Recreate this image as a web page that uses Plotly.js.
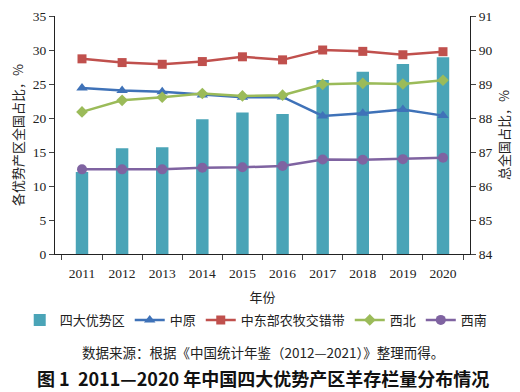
<!DOCTYPE html>
<html><head><meta charset="utf-8">
<script src="https://cdn.plot.ly/plotly-3.0.1.min.js"></script>
<style>body{margin:0}#chart{width:520px;height:392px}</style>
</head><body><div id="chart"></div>
<script>
const years = ['2011','2012','2013','2014','2015','2016','2017','2018','2019','2020'];
const total = [86.41, 87.11, 87.14, 87.96, 88.16, 88.12, 89.12, 89.36, 89.59, 89.79];
const zhongyuan = [24.4, 24.05, 23.85, 23.4, 23.05, 23.1, 20.3, 20.7, 21.25, 20.35];
const zhongdong = [28.7, 28.15, 27.9, 28.3, 29.0, 28.55, 30.0, 29.8, 29.3, 29.75];
const xibei = [20.9, 22.6, 23.05, 23.6, 23.25, 23.35, 24.95, 25.1, 25.0, 25.55];
const xinan = [12.45, 12.45, 12.45, 12.7, 12.75, 12.95, 13.9, 13.85, 13.95, 14.15];

const serif = 'Liberation Serif, Noto Sans CJK SC, serif';
const cjk = 'Noto Sans CJK SC, sans-serif';

const lineTrace = (name, y, color, symbol, size) => ({
  type: 'scatter', mode: 'lines+markers', name: name, x: years, y: y, yaxis: 'y2',
  line: {color: color, width: 2.5}, marker: {symbol: symbol, size: size, color: color}
});

const data = [
  {type: 'bar', name: '四大优势区', x: years, y: total, yaxis: 'y', marker: {color: '#4AA4B7'}, width: 0.31},
  lineTrace('中原', zhongyuan, '#3F72B8', 'triangle-up', 10),
  lineTrace('中东部农牧交错带', zhongdong, '#C0504D', 'square', 9),
  lineTrace('西北', xibei, '#9BBB59', 'diamond', 9),
  lineTrace('西南', xinan, '#7F63A1', 'circle', 10)
];

const layout = {
  width: 520, height: 392,
  margin: {l: 55, r: 50, t: 16, b: 138},
  paper_bgcolor: '#fff', plot_bgcolor: '#fff',
  showlegend: true,
  font: {family: serif, size: 13, color: '#222'},
  xaxis: {
    type: 'category', tickson: 'boundaries', ticks: 'outside', ticklen: 5,
    showline: true, linecolor: '#222', linewidth: 1, showgrid: false,
    ticklabelstandoff: 7,
    tickfont: {family: serif, size: 13.5, color: '#222'},
    title: {text: '年份', font: {family: cjk, size: 13, color: '#222'}, standoff: 12}
  },
  yaxis: {
    side: 'right', range: [84, 91], dtick: 1, ticks: 'outside', ticklen: 5,
    showline: true, linecolor: '#222', showgrid: false, zeroline: false,
    tickfont: {family: serif, size: 13.5, color: '#222'},
    title: {text: '总全国占比，%', font: {family: cjk, size: 13, color: '#222'}, standoff: 8}
  },
  yaxis2: {
    overlaying: 'y', side: 'left', range: [0, 35], dtick: 5, ticks: 'outside', ticklen: 5,
    showline: true, linecolor: '#222', showgrid: false, zeroline: false,
    tickfont: {family: serif, size: 13.5, color: '#222'},
    title: {text: '各优势产区全国占比，%', font: {family: cjk, size: 13, color: '#222'}, standoff: 6}
  },
  legend: {
    orientation: 'h', x: -0.085, xanchor: 'left', y: -0.277, yanchor: 'middle',
    font: {family: cjk, size: 13, color: '#222'}, itemwidth: 30, tracegroupgap: 0
  },
  annotations: [
    {xref: 'paper', yref: 'paper', x: 0.5, y: -0.41, xanchor: 'center', yanchor: 'middle', showarrow: false,
     text: '数据来源：根据《中国统计年鉴（2012—2021）》整理而得。', font: {family: cjk, size: 13.5, color: '#222'}},
    {xref: 'paper', yref: 'paper', x: 0.5, y: -0.52, xanchor: 'center', yanchor: 'middle', showarrow: false,
     text: '<b>图 1  2011—2020 年中国四大优势产区羊存栏量分布情况</b>', font: {family: cjk, size: 18, color: '#111'}}
  ]
};

Plotly.newPlot('chart', data, layout, {displayModeBar: false, staticPlot: true});
</script>
</body></html>
